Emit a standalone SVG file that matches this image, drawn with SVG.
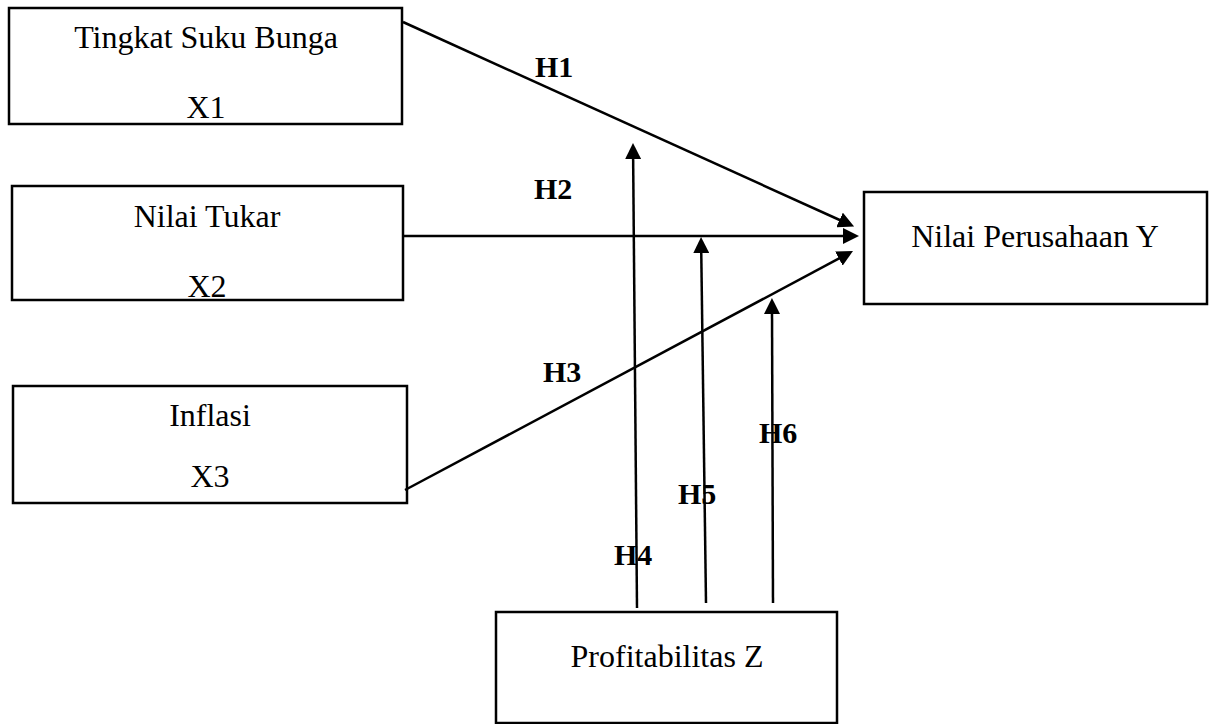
<svg xmlns="http://www.w3.org/2000/svg" width="1213" height="724" viewBox="0 0 1213 724">
<style>
.box{fill:#fff;stroke:#000;stroke-width:2.5}
.t{font-family:"Liberation Serif","Times New Roman",serif;font-size:32px;fill:#000;text-anchor:middle}
.h{font-family:"Liberation Serif","Times New Roman",serif;font-size:30px;font-weight:bold;fill:#000}
.c{stroke:#000;stroke-width:2.5;fill:none;marker-end:url(#ah)}
</style>
<defs>
<marker id="ah" viewBox="0 0 16 16" refX="5" refY="8" markerWidth="16" markerHeight="16" markerUnits="userSpaceOnUse" orient="auto">
<path d="M0,0 L16,8 L0,16 z" fill="#000"/>
</marker>
</defs>
<rect width="1213" height="724" fill="#fff"/>
<g id="x1">
<rect class="box" x="9" y="8" width="393" height="116"/>
<text class="t" x="206" y="48">Tingkat Suku Bunga</text>
<text class="t" x="206" y="118">X1</text>
</g>
<g id="x2">
<rect class="box" x="12" y="186" width="391" height="114"/>
<text class="t" x="207" y="227">Nilai Tukar</text>
<text class="t" x="207" y="297">X2</text>
</g>
<g id="x3">
<rect class="box" x="13" y="386" width="394" height="117"/>
<text class="t" x="210" y="426">Inflasi</text>
<text class="t" x="210" y="487">X3</text>
</g>
<g id="y">
<rect class="box" x="864" y="192" width="343" height="112"/>
<text class="t" x="1035" y="247">Nilai Perusahaan Y</text>
</g>
<g id="z">
<rect class="box" x="496" y="612" width="341" height="111"/>
<text class="t" x="667" y="667">Profitabilitas Z</text>
</g>
<g id="labels">
<text class="h" x="535" y="77">H1</text>
<text class="h" x="534" y="199">H2</text>
<text class="h" x="543" y="382">H3</text>
<text class="h" x="614" y="565">H4</text>
<text class="h" x="678" y="504">H5</text>
<text class="h" x="759" y="443">H6</text>
</g>
<g id="connectors">
<line class="c" x1="403" y1="22" x2="844.1" y2="222.0"/>
<line class="c" x1="403" y1="236" x2="848" y2="236"/>
<line class="c" x1="405" y1="490" x2="843.3" y2="256.2"/>
<line class="c" x1="637" y1="608" x2="633.1" y2="154"/>
<line class="c" x1="706" y1="603" x2="701.2" y2="248"/>
<line class="c" x1="773" y1="603" x2="772" y2="309"/>
</g>
</svg>
